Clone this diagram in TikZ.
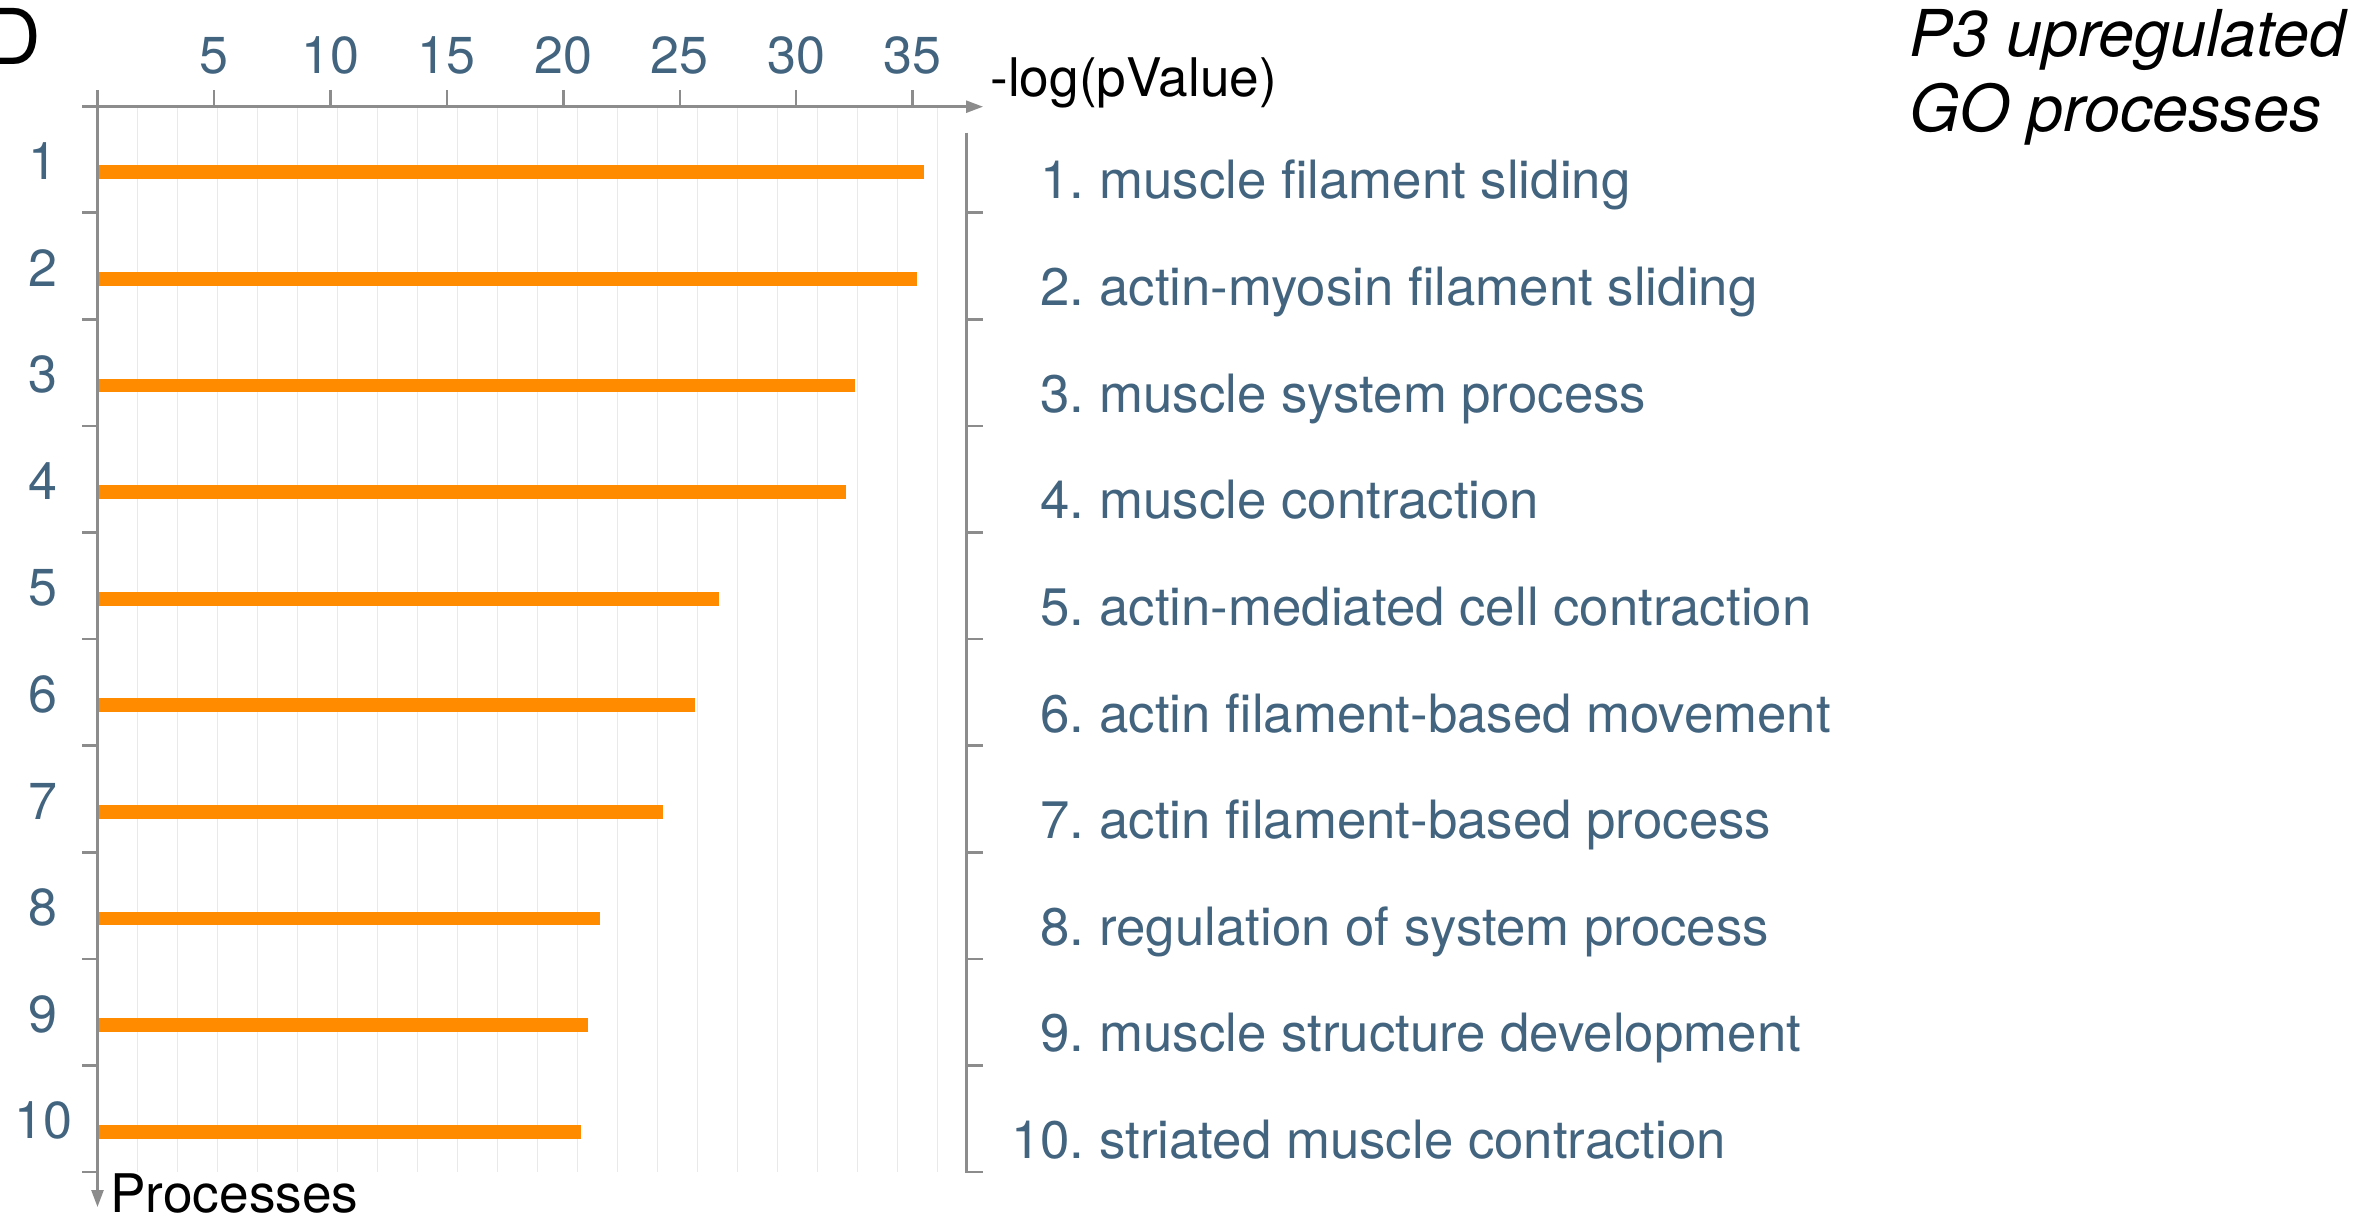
\documentclass[tikz,border=0pt]{standalone}
\usepackage{fontspec}
\setmainfont{TeX Gyre Heros}
\usetikzlibrary{arrows.meta}
\definecolor{axisgray}{RGB}{140,140,140}
\definecolor{gridgray}{RGB}{233,233,233}
\definecolor{labelblue}{RGB}{67,100,127}
\definecolor{barorange}{RGB}{255,140,0}
\begin{document}
\begin{tikzpicture}[x=0.5pt,y=-0.5pt,
  axis/.style={draw=axisgray, line width=1.25pt},
  gridline/.style={draw=gridgray, line width=0.6pt},
  barfill/.style={fill=barorange},
  numlab/.style={font=\fontsize{26}{31}\selectfont, text=labelblue, inner sep=0pt},
  itemlab/.style={font=\fontsize{26.4}{31}\selectfont, text=labelblue, inner sep=0pt},
  blacklab/.style={font=\fontsize{26.6}{31}\selectfont, text=black, inner sep=0pt},
  titlelab/.style={font=\fontsize{32.3}{38}\selectfont\itshape, text=black, inner sep=0pt},
  arr/.style={-{Triangle[length=8.5pt,width=6pt]}}
]
\useasboundingbox (0,0) rectangle (2353,1229);
\clip (0,0) rectangle (2353,1229);
\fill[white] (0,0) rectangle (2353,1229);

% grid
\foreach \k in {1,...,21}
  \draw[gridline] ({97.5+40*\k},106.7) -- ({97.5+40*\k},1172);

% bars
\foreach \k/\e in {1/924.4, 2/916.9, 3/855.3, 4/846.3, 5/718.8, 6/694.8, 7/663.3, 8/600.2, 9/588.2, 10/580.7}
  \fill[barfill] (97.5,{172.3+(\k-1)*106.6-6.85}) rectangle (\e,{172.3+(\k-1)*106.6+6.85});

% axes
\coordinate (xstart) at (82,106.7);
\coordinate (xend) at (983,106.7);
\coordinate (ystart) at (97.5,90);
\coordinate (yend) at (97.5,1207);
\draw[axis,arr] (xstart) -- (xend);
\draw[axis,arr] (ystart) -- (yend);

% top ticks and labels
\foreach \v in {5,10,...,35}{
  \draw[axis] ({97.5+23.29*\v},90) -- ({97.5+23.29*\v},106.7);
  \node[numlab, anchor=base] (top\v) at ({97.5+23.29*\v},74) {\v};
}

% left ticks and numbers
\foreach \k in {1,...,10}{
  \draw[axis] (82,{212.7+(\k-1)*106.6}) -- (97.5,{212.7+(\k-1)*106.6});
  \node[numlab, anchor=base] (num\k) at (43,{179.5+(\k-1)*106.6}) {\k};
}

% right axis
\coordinate (rtop) at (966.5,132.7);
\coordinate (rbot) at (966.5,1172);
\coordinate (rbotend) at (983,1172);
\draw[axis] (rtop) -- (rbot) -- (rbotend);
\foreach \k in {1,...,9}
  \draw[axis] (966.5,{212.7+(\k-1)*106.6}) -- (983,{212.7+(\k-1)*106.6});

% right labels
\foreach \k/\t in {1/muscle filament sliding, 2/actin-myosin filament sliding, 3/muscle system process, 4/muscle contraction, 5/actin-mediated cell contraction, 6/actin filament-based movement, 7/actin filament-based process, 8/regulation of system process, 9/muscle structure development, 10/striated muscle contraction}{
  \node[itemlab, anchor=base east] (rn\k) at (1085,{199+(\k-1)*106.6}) {\k.};
  \node[itemlab, anchor=base west] (rt\k) at (1099,{199+(\k-1)*106.6}) {\t};
}

% axis titles
\node[blacklab, anchor=base west] (xtitle) at (990,97) {-log(pValue)};
\node[blacklab, anchor=base west] (ytitle) at (110,1212) {Processes};

% panel letter
\node[inner sep=0pt, anchor=base west, font=\fontsize{38.5}{46}\selectfont] (panel) at (-15,65) {D};

% title
\node[titlelab, anchor=base west] (title1) at (1909,57) {P3 upregulated};
\node[titlelab, anchor=base west] (title2) at (1909,132) {GO processes};
\end{tikzpicture}
\end{document}
